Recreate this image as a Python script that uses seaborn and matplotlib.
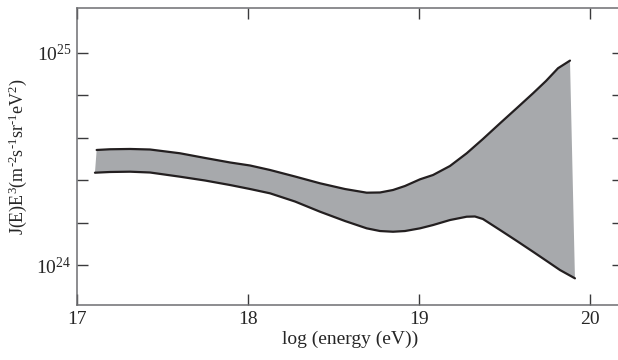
import numpy as np
import pandas as pd
import matplotlib
matplotlib.use('Agg')
import matplotlib.pyplot as plt
import matplotlib.ticker as mticker
import seaborn as sns

# band edges, J*E^3 in units of 1e24
upper_logE = [17.115, 17.193, 17.310, 17.427, 17.602, 17.749, 17.895, 18.012, 18.129,
              18.275, 18.421, 18.567, 18.694, 18.772, 18.848, 18.918, 19.006, 19.082,
              19.181, 19.279, 19.374, 19.474, 19.573, 19.667, 19.743, 19.813, 19.883]
upper_flux = [3.481, 3.508, 3.519, 3.499, 3.359, 3.192, 3.040, 2.942, 2.802,
              2.611, 2.426, 2.280, 2.191, 2.196, 2.256, 2.356, 2.533, 2.654,
              2.926, 3.359, 3.922, 4.650, 5.490, 6.437, 7.358, 8.444, 9.170]

lower_logE = [17.105, 17.193, 17.310, 17.427, 17.602, 17.749, 17.895, 18.012, 18.129,
              18.275, 18.421, 18.567, 18.694, 18.772, 18.848, 18.918, 19.006, 19.082,
              19.181, 19.279, 19.327, 19.374, 19.474, 19.573, 19.667, 19.743, 19.825, 19.912]
lower_flux = [2.721, 2.742, 2.751, 2.727, 2.606, 2.500, 2.381, 2.280, 2.176,
              1.991, 1.783, 1.612, 1.489, 1.446, 1.435, 1.446, 1.489, 1.543,
              1.629, 1.689, 1.693, 1.647, 1.462, 1.297, 1.155, 1.050, 0.947, 0.866]

x_ticks = [17, 18, 19, 20]
y_major = [1e24, 1e25]
y_major_labels = ['10$^{24}$', '10$^{25}$']
y_minor = [10**24.2, 10**24.4, 10**24.6, 10**24.8]

upper = pd.DataFrame({'logE': upper_logE, 'J': np.array(upper_flux) * 1e24})
lower = pd.DataFrame({'logE': lower_logE, 'J': np.array(lower_flux) * 1e24})

sns.set_theme(style='ticks')
plt.rcParams['font.family'] = ['Liberation Serif', 'DejaVu Serif']
plt.rcParams['mathtext.fontset'] = 'custom'
plt.rcParams['mathtext.rm'] = 'Liberation Serif'
plt.rcParams['mathtext.it'] = 'Liberation Serif:italic'

fig = plt.figure(figsize=(6.18, 3.6), dpi=100)
# right spine sits just outside the picture, as in the original crop
ax = fig.add_axes([77 / 618, 55 / 360, 546 / 618, 297 / 360])

# filled band: upper edge then lower edge reversed
band_x = list(upper['logE']) + list(lower['logE'][::-1])
band_y = list(upper['J']) + list(lower['J'][::-1])
ax.fill(band_x, band_y, color='#a7a9ac', lw=0, zorder=1)

sns.lineplot(data=upper, x='logE', y='J', sort=False, color='#231f20', lw=1.6, ax=ax, zorder=2)
sns.lineplot(data=lower, x='logE', y='J', sort=False, color='#231f20', lw=1.6, ax=ax, zorder=2)

ax.set_yscale('log')
ax.set_xlim(17, 17 + 546 / 171)
ax.set_ylim(10**23.812, 10**25.21)

ax.set_xticks(x_ticks)
ax.set_xticklabels([str(t) for t in x_ticks])
ax.yaxis.set_major_locator(mticker.FixedLocator(y_major))
ax.yaxis.set_major_formatter(mticker.FixedFormatter(y_major_labels))
ax.yaxis.set_minor_locator(mticker.FixedLocator(y_minor))
ax.yaxis.set_minor_formatter(mticker.NullFormatter())
ax.xaxis.set_minor_locator(mticker.NullLocator())

ax.tick_params(which='both', direction='in', length=8, width=1.0, color='#3a3a3c',
               top=True, right=True, labelsize=14, pad=4)
for s in ax.spines.values():
    s.set_color('#6d6e71')
    s.set_linewidth(1.1)

ax.set_xlabel('log (energy (eV))', fontsize=14, labelpad=2)
ax.set_ylabel('J(E)E$^3$(m$^{\u2010 2}$s$^{\u2010 1}$sr$^{\u2010 1}$eV$^2$)', fontsize=13, labelpad=5)

fig.savefig('out.png', dpi=100)
